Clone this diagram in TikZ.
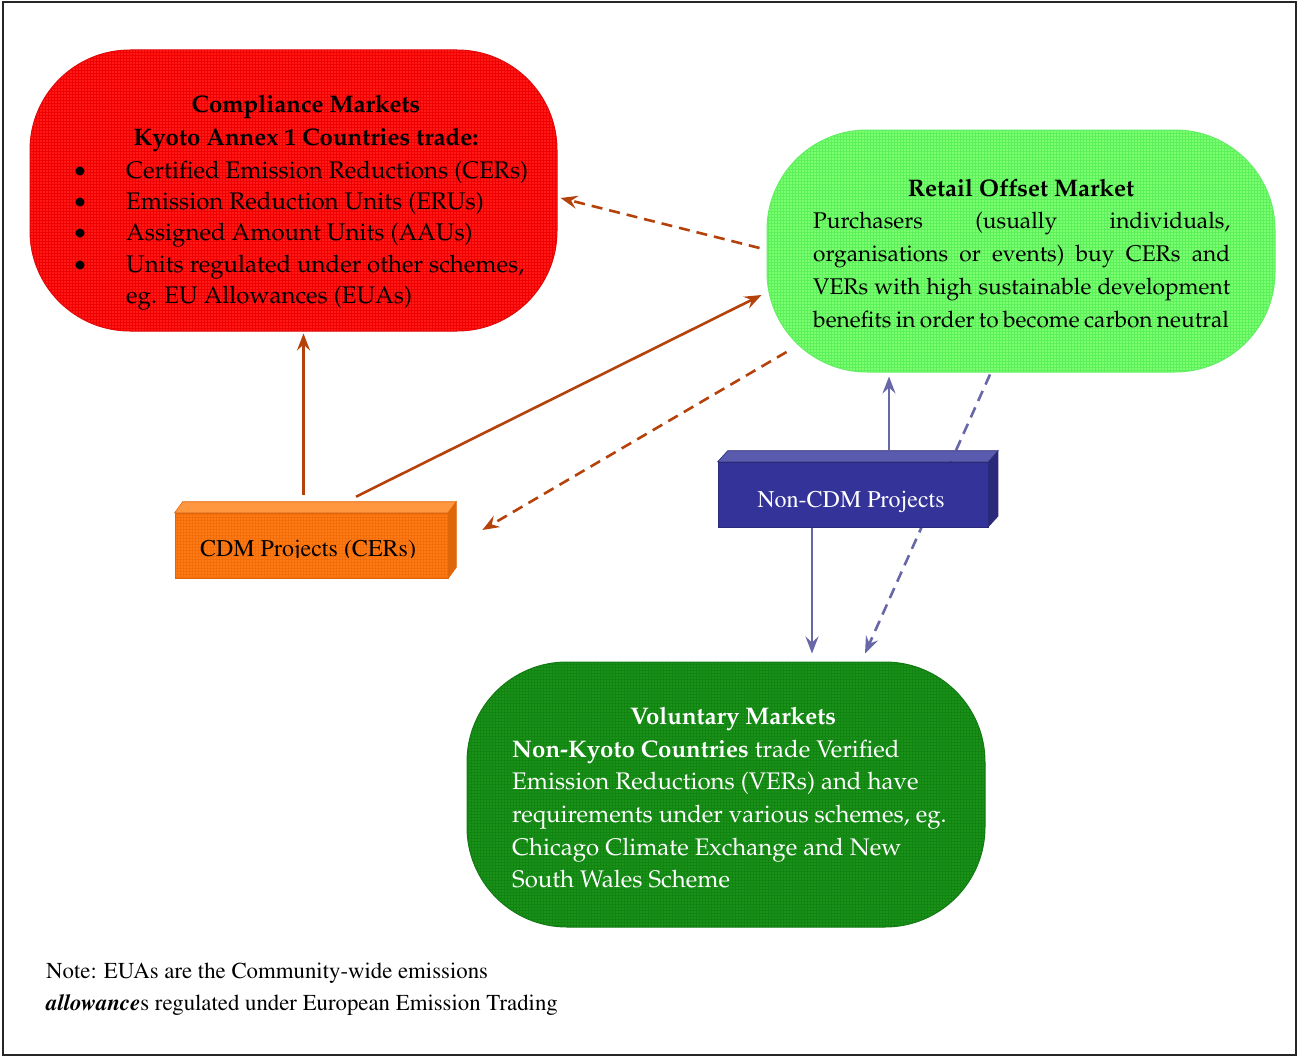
\documentclass[tikz,border=0pt]{standalone}
\usepackage[T1]{fontenc}
\usetikzlibrary{arrows.meta,calc,patterns}

\newcommand\palat{\fontfamily{ppl}\selectfont}
\newcommand\tms{\fontfamily{ptm}\selectfont}

\definecolor{cred}{HTML}{FF1A1A}
\definecolor{credgrid}{HTML}{F20000}
\definecolor{credline}{HTML}{E00A0A}
\definecolor{clight}{HTML}{7CFF6E}
\definecolor{clightgrid}{HTML}{5CF05C}
\definecolor{clightline}{HTML}{66EE66}
\definecolor{cdark}{HTML}{1A921A}
\definecolor{cdarkgrid}{HTML}{128412}
\definecolor{cdarkline}{HTML}{127A12}
\definecolor{corange}{HTML}{FF7A14}
\definecolor{corangegrid}{HTML}{F26E0A}
\definecolor{corangetop}{HTML}{FF9640}
\definecolor{corangeside}{HTML}{E0660A}
\definecolor{cblue}{HTML}{333399}
\definecolor{cbluetop}{HTML}{5A5AAE}
\definecolor{cblueside}{HTML}{2A2A7A}
\definecolor{arrowbrown}{HTML}{B5420A}
\definecolor{arrowslate}{HTML}{6868A8}

\tikzset{
  roundbox/.style={rectangle, rounded corners=100pt, inner sep=0pt, line width=1pt},
  flatbox/.style={rectangle, inner sep=0pt, line width=0.6pt},
  lefttxt/.style={inner sep=0pt, anchor=base west},
  midtxt/.style={inner sep=0pt, anchor=base},
  bodyfont/.style={font=\palat\fontsize{24}{31.5}\selectfont},
  retailfont/.style={font=\palat\fontsize{22.7}{33}\selectfont},
  labelfont/.style={font=\tms\fontsize{24}{32}\selectfont},
  notefont/.style={font=\tms\fontsize{22.8}{32}\selectfont},
  bulletdot/.style={circle, fill=black, inner sep=0pt, minimum size=9pt},
  tip/.style={-{Stealth[length=17pt,width=13pt,inset=6pt]}},
  brownlink/.style={draw=arrowbrown, line width=2.6pt, tip},
  slatelink/.style={draw=arrowslate, line width=2.6pt, tip},
  dashlink/.style={dash pattern=on 11pt off 7pt},
}

\begin{document}
\begin{tikzpicture}[x=1pt,y=-1pt]
\useasboundingbox (0,0) rectangle (1299,1057);
\draw[line width=2pt, black!85] (3,2) rectangle (1296,1055);

% Compliance markets
\node[roundbox, preaction={fill=cred}, pattern=grid, pattern color=credgrid, draw=credline,
      minimum width=527pt, minimum height=281pt] (comp) at (293.5,190.5) {};
\node[midtxt, bodyfont] (compt) at (306,112) {\bfseries Compliance Markets};
\node[midtxt, bodyfont] (compk) at (306,145) {\bfseries Kyoto Annex 1 Countries trade:};
\node[bulletdot] (b1) at (80,171) {};
\node[bulletdot] (b2) at (80,202) {};
\node[bulletdot] (b3) at (80,233) {};
\node[bulletdot] (b4) at (80,265) {};
\node[lefttxt, bodyfont] (c1) at (126,178) {Certified Emission Reductions (CERs)};
\node[lefttxt, bodyfont] (c2) at (126,209) {Emission Reduction Units (ERUs)};
\node[lefttxt, bodyfont] (c3) at (126,240) {Assigned Amount Units (AAUs)};
\node[lefttxt, bodyfont] (c4) at (126,272) {Units regulated under other schemes,};
\node[lefttxt, bodyfont] (c5) at (126,303) {eg. EU Allowances (EUAs)};

% Retail offset market
\node[roundbox, preaction={fill=clight}, pattern=grid, pattern color=clightgrid, draw=clightline,
      minimum width=508pt, minimum height=242pt] (retail) at (1021,251) {};
\node[midtxt, bodyfont] (rett) at (1021,196) {\bfseries Retail Offset Market};
\node[lefttxt, retailfont] (r1) at (813,228) {\makebox[417pt][s]{Purchasers (usually individuals,}};
\node[lefttxt, retailfont] (r2) at (813,261) {\makebox[417pt][s]{organisations or events) buy CERs and}};
\node[lefttxt, retailfont] (r3) at (813,294) {\makebox[417pt][s]{VERs with high sustainable development}};
\node[lefttxt, retailfont] (r4) at (813,327) {\makebox[414pt][s]{benefits in order to become carbon neutral}};

% Voluntary markets
\node[roundbox, preaction={fill=cdark}, pattern=grid, pattern color=cdarkgrid, draw=cdarkline,
      minimum width=518pt, minimum height=265pt] (vol) at (726,794.5) {};
\node[midtxt, bodyfont, text=white] (volt) at (733,724) {\bfseries Voluntary Markets};
\node[lefttxt, bodyfont, text=white] (v1) at (512,757) {\textbf{Non-Kyoto Countries} trade Verified};
\node[lefttxt, bodyfont, text=white] (v2) at (512,789) {Emission Reductions (VERs) and have};
\node[lefttxt, bodyfont, text=white] (v3) at (512,822) {requirements under various schemes, eg.};
\node[lefttxt, bodyfont, text=white] (v4) at (512,855) {Chicago Climate Exchange and New};
\node[lefttxt, bodyfont, text=white] (v5) at (512,887) {South Wales Scheme};

% CDM projects block
\node[flatbox, preaction={fill=corange}, pattern=grid, pattern color=corangegrid, draw=corangeside,
      minimum width=273pt, minimum height=65pt] (cdm) at (311.5,545.5) {};
\fill[corangetop, draw=corangeside, line width=0.6pt]
  (cdm.north west) -- ++(8,-11) -- ($(cdm.north east)+(8,-11)$) -- (cdm.north east) -- cycle;
\fill[corangeside, draw=corangeside, line width=0.6pt]
  (cdm.north east) -- ++(8,-11) -- ($(cdm.south east)+(8,-11)$) -- (cdm.south east) -- cycle;
\begin{scope}
  \clip (cdm.north west) rectangle ($(cdm.east)+(0,12)$);
  \node[midtxt, labelfont] (cdmt) at (308,556) {CDM Projects (CERs)};
\end{scope}

% dashed link running behind the Non-CDM block
\draw[slatelink, dashlink] ($(retail.south)+(-31,2)$) -- ($(vol.north)+(139,-8)$);

% Non-CDM projects block
\node[flatbox, fill=cblue, draw=cblueside, minimum width=270pt, minimum height=65pt] (noncdm) at (853,494.5) {};
\fill[cbluetop, draw=cblueside, line width=0.6pt]
  (noncdm.north west) -- ++(10,-11) -- ($(noncdm.north east)+(10,-11)$) -- (noncdm.north east) -- cycle;
\fill[cblueside]
  (noncdm.north east) -- ++(10,-11) -- ($(noncdm.south east)+(10,-11)$) -- (noncdm.south east) -- cycle;
\node[midtxt, labelfont, text=white] (noncdmt) at (851,507) {Non-CDM Projects};

% links
\draw[brownlink] ($(cdm.north)+(-8,-18)$) -- ($(comp.south)+(10,2)$);
\draw[brownlink] ($(cdm.north)+(44.5,-16)$) -- ($(retail.west)+(-5,44)$);
\draw[brownlink, dashlink] ($(retail.west)+(-7,-3)$) -- ($(comp.east)+(3,7.5)$);
\draw[brownlink, dashlink] ($(retail.west)+(20,101)$) -- ($(cdm.east)+(34,-15.5)$);
\draw[slatelink] ($(noncdm.north)+(36,-12)$) -- ($(retail.south)+(-132,4)$);
\draw[slatelink] ($(noncdm.south)+(-41,1)$) -- ($(vol.north)+(86,-8)$);

% footnote
\node[lefttxt, notefont] (n1) at (46,978) {Note: EUAs are the Community-wide emissions};
\node[lefttxt, notefont] (n2) at (46,1010) {\textbf{\textit{allowance}}s regulated under European Emission Trading};
\end{tikzpicture}
\end{document}
